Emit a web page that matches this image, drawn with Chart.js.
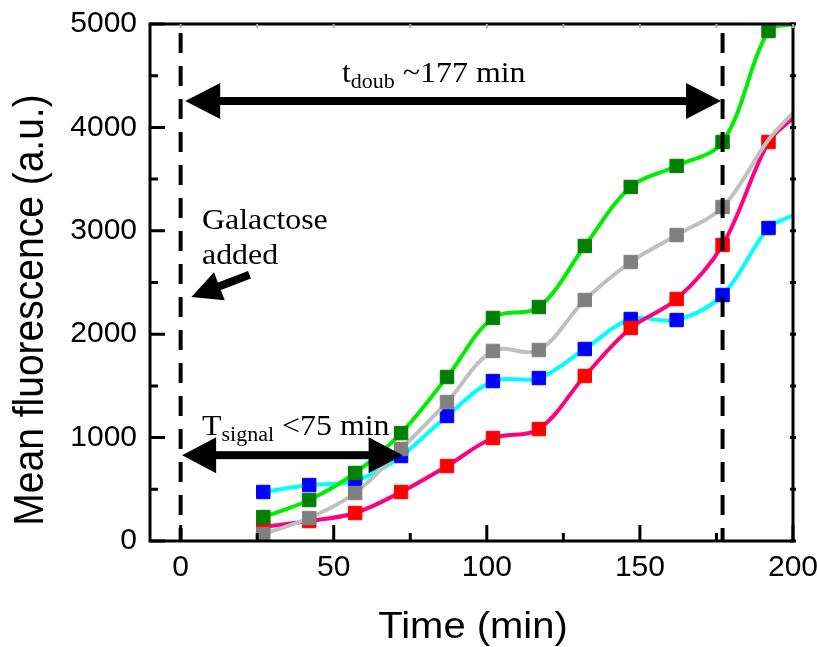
<!DOCTYPE html>
<html>
<head>
<meta charset="utf-8">
<script src="https://cdn.jsdelivr.net/npm/chart.js@4.4.0/dist/chart.umd.min.js"></script>
<style>
  html, body { margin: 0; padding: 0; background: #fff; }
  #wrap { width: 817px; height: 647px; position: relative; }
</style>
</head>
<body>
<div id="wrap"><canvas id="chart"></canvas></div>
<script>
// sampling times (min)
const times = [27, 42, 57, 72, 87, 102, 117, 132, 147, 162, 177, 192];
// mean fluorescence per strain
const greenValues = [232, 396, 658, 1044, 1586, 2157, 2263, 2853, 3424, 3627, 3859, 4932];
const grayValues = [68, 222, 464, 890, 1344, 1838, 1847, 2331, 2698, 2959, 3230, 3880];
const blueValues = [474, 541, 580, 822, 1209, 1547, 1576, 1857, 2147, 2137, 2379, 3027];
const redValues = [135, 193, 271, 474, 725, 996, 1083, 1596, 2060, 2340, 2863, 3859];
// where the fitted curves leave the frame at t = 200
const curveEndTime = 200;
const curveEndValues = { green: 5000, gray: 4140, blue: 3150, red: 4090 };

const xTickLabels = [0, 50, 100, 150, 200];
const yTickLabels = [0, 1000, 2000, 3000, 4000, 5000];
const eventTimes = [0, 177]; // galactose added, doubling time

const SANS = '"Liberation Sans", Arial, sans-serif';
const SERIF = '"Liberation Serif", "Times New Roman", serif';

function series(values, endValue) {
  const pts = values.map((v, i) => ({ x: times[i], y: v }));
  pts.push({ x: curveEndTime, y: endValue });
  return pts;
}
function radii(n, hidden) {
  const r = [];
  for (let i = 0; i < n; i++) r.push(hidden.includes(i) ? 0 : 9.5);
  r.push(0);
  return r;
}

function makeSet(values, endValue, lineColor, markColor, order, hidden) {
  return {
    data: series(values, endValue),
    borderColor: lineColor,
    borderWidth: 4,
    tension: 0.35,
    pointStyle: 'rect',
    pointRadius: radii(values.length, hidden || []),
    pointBackgroundColor: markColor,
    pointBorderColor: markColor,
    pointBorderWidth: 1,
    order,
  };
}

function arrow(ctx, x1, y1, x2, y2, both, hl, hw, sw) {
  const ang = Math.atan2(y2 - y1, x2 - x1);
  const len = Math.hypot(x2 - x1, y2 - y1);
  ctx.save();
  ctx.translate(x1, y1);
  ctx.rotate(ang);
  const start = both ? hl - 2 : 0;
  ctx.fillRect(start, -sw / 2, len - hl + 2 - start, sw);
  ctx.beginPath();
  ctx.moveTo(len, 0);
  ctx.lineTo(len - hl, -hw);
  ctx.lineTo(len - hl, hw);
  ctx.closePath();
  ctx.fill();
  if (both) {
    ctx.beginPath();
    ctx.moveTo(0, 0);
    ctx.lineTo(hl, -hw);
    ctx.lineTo(hl, hw);
    ctx.closePath();
    ctx.fill();
  }
  ctx.restore();
}

// text with a subscript, slightly widened like the source figure
function subText(ctx, x, y, main, sub, rest) {
  ctx.save();
  ctx.translate(x, y);
  ctx.scale(1.1, 1);
  ctx.textAlign = 'left';
  ctx.textBaseline = 'alphabetic';
  ctx.font = '29px ' + SERIF;
  ctx.fillText(main, 0, 0);
  let cx = ctx.measureText(main).width;
  ctx.font = '20px ' + SERIF;
  ctx.fillText(sub, cx, 6);
  cx += ctx.measureText(sub).width;
  ctx.font = '29px ' + SERIF;
  ctx.fillText(rest, cx, 0);
  ctx.restore();
}

const figureExtras = {
  id: 'figureExtras',
  afterDatasetsDraw(chart) {
    const { ctx, chartArea: a, scales: { x, y } } = chart;
    ctx.save();
    ctx.strokeStyle = '#000';
    ctx.fillStyle = '#000';

    // dashed event lines
    ctx.lineWidth = 4;
    ctx.setLineDash([20, 13]);
    eventTimes.forEach(t => {
      const px = x.getPixelForValue(t);
      ctx.beginPath();
      ctx.moveTo(px, a.top + 9);
      ctx.lineTo(px, a.bottom);
      ctx.stroke();
    });
    ctx.setLineDash([]);

    // doubling-time arrow
    arrow(ctx, x.getPixelForValue(1.5), y.getPixelForValue(4255),
      x.getPixelForValue(176.5), y.getPixelForValue(4255), true, 35, 18, 8);
    // signal arrow
    arrow(ctx, x.getPixelForValue(0.5), y.getPixelForValue(830),
      x.getPixelForValue(72.5), y.getPixelForValue(830), true, 34, 18, 8);
    // galactose arrow
    arrow(ctx, x.getPixelForValue(22.5), y.getPixelForValue(2575),
      x.getPixelForValue(3.5), y.getPixelForValue(2360), false, 30, 15, 8);

    subText(ctx, 342, 82, 't', 'doub', ' ~177 min');
    subText(ctx, 202, 435, 'T', 'signal', ' <75 min');

    ctx.save();
    ctx.translate(202, 229);
    ctx.scale(1.1, 1);
    ctx.font = '29px ' + SERIF;
    ctx.textAlign = 'left';
    ctx.fillText('Galactose', 0, 0);
    ctx.fillText('added', 0, 35);
    ctx.restore();
    ctx.restore();
  },
  afterDraw(chart) {
    const { ctx, chartArea: a, scales: { x, y } } = chart;
    ctx.save();
    ctx.strokeStyle = '#000';
    ctx.lineWidth = 3;
    ctx.strokeRect(a.left, a.top, a.right - a.left, a.bottom - a.top);

    // inward ticks
    for (let v = 0; v <= 5000; v += 500) {
      const py = y.getPixelForValue(v);
      const len = v % 1000 === 0 ? 15 : 8;
      ctx.beginPath();
      ctx.moveTo(a.left, py);
      ctx.lineTo(a.left + len, py);
      ctx.moveTo(a.right - 3, py);
      ctx.lineTo(a.right + 3, py);
      ctx.stroke();
    }
    for (let v = 0; v <= 200; v += 25) {
      const px = x.getPixelForValue(v);
      const len = v % 50 === 0 ? 16 : 8;
      ctx.strokeStyle = '#000';
      ctx.beginPath();
      ctx.moveTo(px, a.bottom);
      ctx.lineTo(px, a.bottom - len);
      ctx.stroke();
      ctx.strokeStyle = '#aaa';
      ctx.lineWidth = 2;
      ctx.beginPath();
      ctx.moveTo(px, a.top);
      ctx.lineTo(px, a.top + 4);
      ctx.stroke();
      ctx.lineWidth = 3;
    }

    // axis titles
    ctx.fillStyle = '#000';
    ctx.textAlign = 'center';
    ctx.textBaseline = 'alphabetic';
    ctx.save();
    ctx.translate(473, 638);
    ctx.scale(1.08, 1);
    ctx.font = '37px ' + SANS;
    ctx.fillText('Time (min)', 0, 0);
    ctx.restore();

    ctx.save();
    ctx.translate(43, 310);
    ctx.scale(1.1, 1);
    ctx.rotate(-Math.PI / 2);
    ctx.font = '39px ' + SANS;
    ctx.fillText('Mean fluorescence (a.u.)', 0, 0);
    ctx.restore();
    ctx.restore();
  },
};

const chart = new Chart(document.getElementById('chart'), {
  type: 'line',
  data: {
    datasets: [
      makeSet(greenValues, curveEndValues.green, '#00ee00', '#008000', 1),
      makeSet(grayValues, curveEndValues.gray, '#c0c0c0', '#808080', 2, [11]),
      makeSet(redValues, curveEndValues.red, '#ff0080', '#ff0000', 3),
      makeSet(blueValues, curveEndValues.blue, '#00ffff', '#0000ff', 4),
    ],
  },
  options: {
    responsive: true,
    maintainAspectRatio: false,
    animation: false,
    events: [],
    layout: { padding: { top: 24, right: 24, left: 0, bottom: 0 } },
    plugins: { legend: { display: false }, tooltip: { enabled: false } },
    scales: {
      x: {
        type: 'linear',
        min: -10,
        max: 200,
        grid: { display: false, drawTicks: false },
        border: { display: false },
        afterBuildTicks: (s) => { s.ticks = xTickLabels.map(v => ({ value: v })); },
        afterFit: (s) => { s.height = 106; s.paddingLeft = 0; s.paddingRight = 0; },
        ticks: { color: '#000', padding: 9, maxRotation: 0, font: { family: SANS, size: 30 }, callback: (v) => String(v) },
      },
      y: {
        min: 0,
        max: 5000,
        grid: { display: false, drawTicks: false },
        border: { display: false },
        afterBuildTicks: (s) => { s.ticks = yTickLabels.map(v => ({ value: v })); },
        afterFit: (s) => { s.width = 150; s.paddingTop = 0; s.paddingBottom = 0; },
        ticks: { color: '#000', padding: 13, font: { family: SANS, size: 30 }, callback: (v) => String(v) },
      },
    },
  },
  plugins: [figureExtras],
});
</script>
</body>
</html>
